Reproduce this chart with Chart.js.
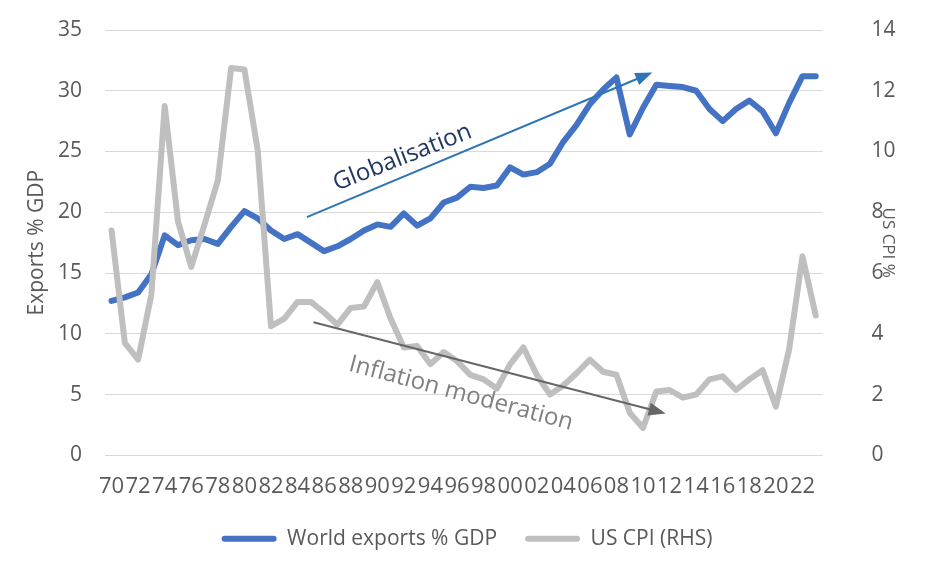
<!DOCTYPE html>
<html>
<head>
<meta charset="utf-8">
<script src="https://cdn.jsdelivr.net/npm/chart.js@4.4.1/dist/chart.umd.min.js"></script>
<style>
  body { margin: 0; background: #fff; }
  #chart { display: block; }
</style>
</head>
<body>
<canvas id="chart" width="934" height="566"></canvas>
<script>
// categories: years 1970 - 2023, shown as two digits
const yearLabels = ['70','71','72','73','74','75','76','77','78','79',
  '80','81','82','83','84','85','86','87','88','89',
  '90','91','92','93','94','95','96','97','98','99',
  '00','01','02','03','04','05','06','07','08','09',
  '10','11','12','13','14','15','16','17','18','19',
  '20','21','22','23'];

// world exports, % of GDP (left axis)
const exportsGdp = [12.7, 13.0, 13.4, 14.9, 18.1, 17.3, 17.7, 17.8, 17.4, 18.8,
  20.1, 19.5, 18.5, 17.8, 18.2, 17.5, 16.8, 17.2, 17.8, 18.5,
  19.0, 18.8, 19.9, 18.9, 19.5, 20.8, 21.2, 22.1, 22.0, 22.2,
  23.7, 23.1, 23.3, 24.0, 25.8, 27.2, 28.9, 30.1, 31.1, 26.4,
  28.6, 30.5, 30.4, 30.3, 30.0, 28.5, 27.5, 28.5, 29.2, 28.3,
  26.5, 29.0, 31.2, 31.2];

// US CPI % (right axis)
const usCpi = [7.4, 3.7, 3.15, 5.3, 11.5, 7.7, 6.2, 7.6, 9.05, 12.75,
  12.7, 10.05, 4.25, 4.5, 5.05, 5.05, 4.7, 4.3, 4.85, 4.9,
  5.7, 4.5, 3.55, 3.6, 3.0, 3.4, 3.1, 2.65, 2.5, 2.2,
  3.0, 3.55, 2.65, 2.0, 2.3, 2.7, 3.15, 2.75, 2.65, 1.4,
  0.9, 2.1, 2.15, 1.9, 2.0, 2.5, 2.6, 2.15, 2.5, 2.8,
  1.6, 3.5, 6.55, 4.6];

// axis ticks
const leftTicks = [0, 5, 10, 15, 20, 25, 30, 35];
const rightTicks = [0, 2, 4, 6, 8, 10, 12, 14];

const seriesNames = ['World exports % GDP', 'US CPI (RHS)'];

// arrows + labels, placed in data units (category index, axis value)
const notes = [
  { axis: 'y', from: [14.7, 19.6], to: [40.7, 31.5], color: '#2E75B6',
    text: 'Globalisation', textAt: [21.9, 24.5], angle: -21.5, textColor: '#203864' },
  { axis: 'y1', from: [15.2, 4.38], to: [41.7, 1.38], color: '#666666',
    text: 'Inflation moderation', textAt: [26.3, 2.03], angle: 15, textColor: '#7F7F7F' }
];

const FONT = '"Open Sans", sans-serif';
const GREY_TXT = '#595959';
Chart.defaults.font.family = FONT;
Chart.defaults.color = GREY_TXT;

const notesPlugin = {
  id: 'notes',
  afterDatasetsDraw(chart) {
    const ctx = chart.ctx;
    const xs = chart.scales.x;
    notes.forEach(n => {
      const ys = chart.scales[n.axis];
      const x1 = xs.getPixelForValue(n.from[0]), y1 = ys.getPixelForValue(n.from[1]);
      const x2 = xs.getPixelForValue(n.to[0]), y2 = ys.getPixelForValue(n.to[1]);
      const a = Math.atan2(y2 - y1, x2 - x1);
      const headLen = 17, headHalf = 6.5;
      ctx.save();
      ctx.strokeStyle = n.color;
      ctx.fillStyle = n.color;
      ctx.lineWidth = 2;
      ctx.beginPath();
      ctx.moveTo(x1, y1);
      ctx.lineTo(x2 - Math.cos(a) * headLen * 0.8, y2 - Math.sin(a) * headLen * 0.8);
      ctx.stroke();
      ctx.beginPath();
      ctx.moveTo(x2, y2);
      ctx.lineTo(x2 - Math.cos(a) * headLen + Math.sin(a) * headHalf, y2 - Math.sin(a) * headLen - Math.cos(a) * headHalf);
      ctx.lineTo(x2 - Math.cos(a) * headLen - Math.sin(a) * headHalf, y2 - Math.sin(a) * headLen + Math.cos(a) * headHalf);
      ctx.closePath();
      ctx.fill();

      const tx = xs.getPixelForValue(n.textAt[0]), ty = ys.getPixelForValue(n.textAt[1]);
      ctx.translate(tx, ty);
      ctx.rotate(n.angle * Math.PI / 180);
      ctx.font = '24px ' + FONT;
      ctx.fillStyle = n.textColor;
      ctx.textAlign = 'center';
      ctx.textBaseline = 'middle';
      ctx.fillText(n.text, 0, 0);
      ctx.restore();
    });
  }
};

// fixed axis widths; drop the half-label padding so the plot keeps its top edge
function fixWidth(w) {
  return s => {
    s.width = w;
    s.paddingTop = 0;
    s.paddingBottom = 0;
  };
}

const chart = new Chart(document.getElementById('chart'), {
  type: 'line',
  data: {
    labels: yearLabels,
    datasets: [
      {
        label: seriesNames[0],
        data: exportsGdp,
        yAxisID: 'y',
        borderColor: '#4472C4',
        backgroundColor: '#4472C4',
        borderWidth: 6,
        pointRadius: 0,
        tension: 0,
        borderJoinStyle: 'round',
        borderCapStyle: 'round',
        order: 1
      },
      {
        label: seriesNames[1],
        data: usCpi,
        yAxisID: 'y1',
        borderColor: '#BFBFBF',
        backgroundColor: '#BFBFBF',
        borderWidth: 6,
        pointRadius: 0,
        tension: 0,
        borderJoinStyle: 'round',
        borderCapStyle: 'round',
        order: 0
      }
    ]
  },
  options: {
    responsive: false,
    animation: false,
    layout: { padding: { top: 30, bottom: 6.7, left: 0, right: 0 } },
    plugins: {
      tooltip: { enabled: false },
      legend: {
        position: 'bottom',
        labels: {
          boxWidth: 55,
          boxHeight: 6,
          padding: 28,
          useBorderRadius: true,
          borderRadius: 3,
          color: GREY_TXT,
          font: { size: 21, family: FONT },
          sort: (a, b) => a.datasetIndex - b.datasetIndex,
          generateLabels(chart) {
            return Chart.defaults.plugins.legend.labels.generateLabels(chart)
              .map(item => Object.assign(item, { lineWidth: 0 }));
          }
        }
      }
    },
    scales: {
      x: {
        offset: true,
        grid: { display: false },
        border: { display: false },
        ticks: {
          autoSkip: false,
          maxRotation: 0,
          minRotation: 0,
          padding: 10,
          color: GREY_TXT,
          font: { size: 22 },
          callback: (v, i) => (i % 2 === 0 ? yearLabels[i] : '')
        },
        afterFit(s) { s.height = 45; }
      },
      y: {
        position: 'left',
        min: leftTicks[0],
        max: leftTicks[leftTicks.length - 1],
        afterBuildTicks(s) { s.ticks = leftTicks.map(v => ({ value: v })); },
        grid: { color: '#D9D9D9', lineWidth: 1, drawTicks: false },
        border: { display: false },
        ticks: { padding: 23, color: GREY_TXT, font: { size: 21 } },
        title: {
          display: true,
          text: 'Exports % GDP',
          color: GREY_TXT,
          font: { size: 21 },
          padding: { top: 24, bottom: 0 }
        },
        afterFit: fixWidth(104.9)
      },
      y1: {
        position: 'right',
        min: rightTicks[0],
        max: rightTicks[rightTicks.length - 1],
        afterBuildTicks(s) { s.ticks = rightTicks.map(v => ({ value: v })); },
        grid: { display: false, drawTicks: false },
        border: { display: false },
        ticks: { padding: 49, color: GREY_TXT, font: { size: 21 } },
        title: {
          display: true,
          text: 'US CPI %',
          color: GREY_TXT,
          font: { size: 17 },
          padding: { top: 35.8, bottom: 0 }
        },
        afterFit: fixWidth(111.6)
      }
    }
  },
  plugins: [notesPlugin]
});
</script>
</body>
</html>
